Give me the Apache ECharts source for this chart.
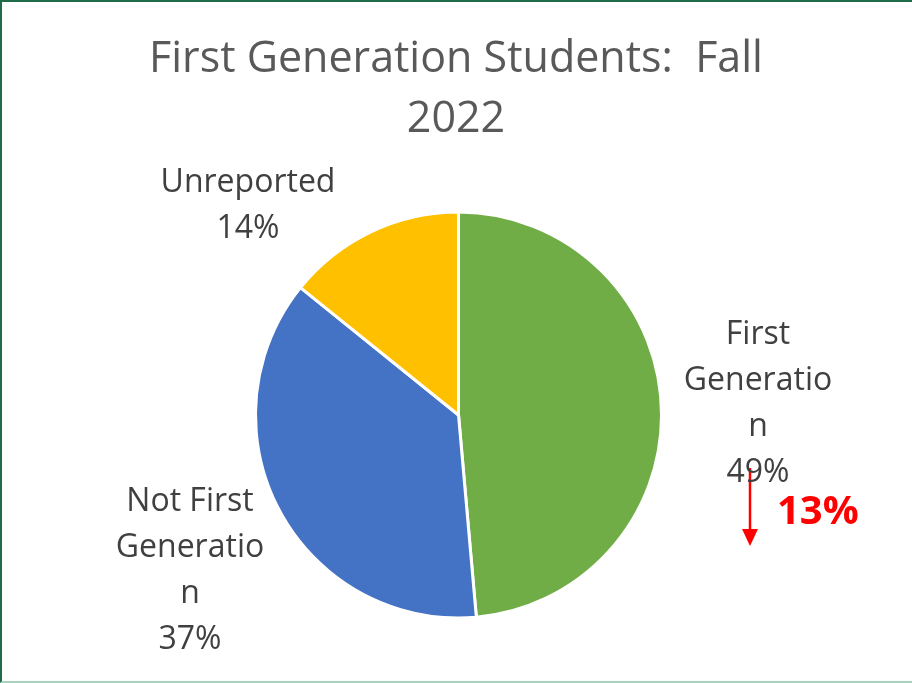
<!DOCTYPE html>
<html>
<head>
<meta charset="utf-8">
<script src="https://cdn.jsdelivr.net/npm/echarts@6/dist/echarts.min.js"></script>
<style>
  html, body { margin: 0; padding: 0; background: #fff; }
  #frame {
    position: absolute; left: 0; top: 0; width: 914px; height: 679px;
    border-left: 2px solid #1f6b4a; border-top: 2px solid #1f6b4a;
    border-bottom: 2px solid #a8d2c0;
  }
  #chart { width: 912px; height: 683px; position: absolute; left: 0; top: 0; }
</style>
</head>
<body>
<div id="frame"></div>
<div id="chart"></div>
<script>
// slice names, shown wrapped like the original
const categories = ["First Generation", "Not First Generation", "Unreported"];
const labelText = ["First\nGeneratio\nn", "Not First\nGeneratio\nn", "Unreported"];
// shares (labels round them)
const values = [48.6, 37.2, 14.2];
const colors = ["#70AD47", "#4472C4", "#FFC000"];
const changeText = "13%";

// label anchor points (centre of label block)
const labelPos = [[758, 404], [190, 571], [248, 206]];

var chart = echarts.init(document.getElementById("chart"));

var option = {
  title: {
    text: "First Generation Students:  Fall\n2022",
    left: "center",
    top: 25,
    textStyle: {
      fontFamily: "Open Sans",
      fontWeight: "normal",
      fontSize: 43,
      lineHeight: 60,
      color: "#595959"
    }
  },
  series: [{
    type: "pie",
    center: [458.5, 415],
    radius: 203,
    startAngle: 90,
    clockwise: true,
    itemStyle: { borderColor: "#fff", borderWidth: 3 },
    label: {
      show: true,
      position: "outside",
      fontFamily: "Open Sans",
      fontSize: 32,
      lineHeight: 46,
      color: "#404040",
      align: "center",
      formatter: function (p) {
        return labelText[p.dataIndex] + "\n" + Math.round(p.percent) + "%";
      }
    },
    labelLine: { show: false },
    labelLayout: function (p) {
      return { x: labelPos[p.dataIndex][0], y: labelPos[p.dataIndex][1], align: "center", verticalAlign: "middle" };
    },
    emphasis: { disabled: true },
    data: categories.map(function (c, i) {
      return { name: c, value: values[i], itemStyle: { color: colors[i] } };
    })
  }],
  graphic: [
    { type: "line", shape: { x1: 750, y1: 468, x2: 750, y2: 532 }, style: { stroke: "#FF0000", lineWidth: 2.5 } },
    { type: "polygon", shape: { points: [[742, 529], [758, 529], [750, 546]] }, style: { fill: "#FF0000" } },
    { type: "text", style: { x: 777, y: 513, text: changeText, fill: "#FF0000", font: "bold 40px 'Open Sans'", textVerticalAlign: "middle" } }
  ]
};

chart.setOption(option);
</script>
</body>
</html>
